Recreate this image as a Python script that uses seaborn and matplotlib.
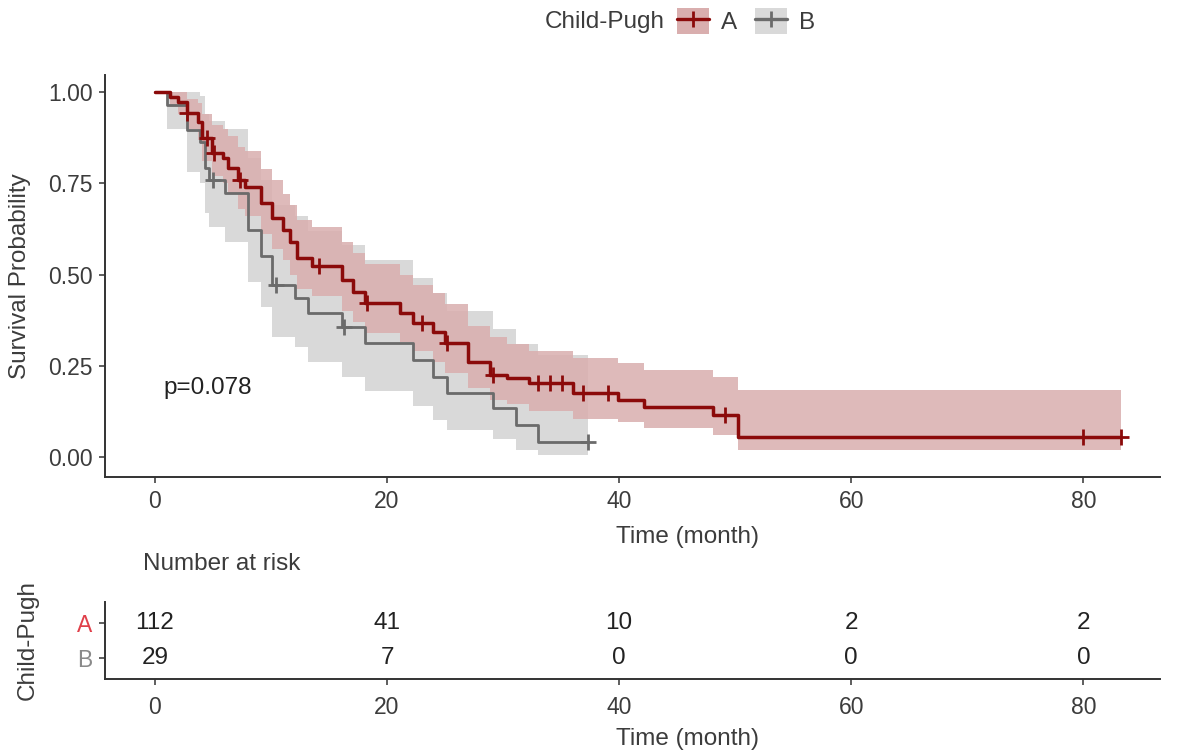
import numpy as np
import pandas as pd
import matplotlib
matplotlib.use("Agg")
import matplotlib.pyplot as plt
import seaborn as sns
from matplotlib.patches import Patch
from matplotlib.lines import Line2D
from matplotlib.legend_handler import HandlerTuple

# ---------------- data ----------------
groups = ["A", "B"]

time_A = [0, 1.3, 2.0, 2.8, 3.7, 4.1, 4.9, 5.9, 6.3, 7.2, 7.8, 9.1, 10.1, 11.0, 11.6,
          12.2, 13.5, 16.1, 17.1, 18.1, 21.1, 22.2, 24.0, 25.0, 27.0, 28.9, 30.3,
          32.2, 36.0, 39.9, 42.1, 48.1, 50.2]
surv_A = [1.0, 0.986, 0.973, 0.942, 0.918, 0.874, 0.833, 0.819, 0.792, 0.759, 0.740,
          0.696, 0.655, 0.622, 0.589, 0.545, 0.523, 0.485, 0.452, 0.422, 0.395, 0.367,
          0.342, 0.312, 0.260, 0.225, 0.216, 0.203, 0.175, 0.156, 0.137, 0.115, 0.055]
upper_A = [1.0, 1.0, 1.0, 0.98, 0.97, 0.94, 0.91, 0.90, 0.88, 0.85, 0.84, 0.79, 0.76,
           0.72, 0.69, 0.65, 0.63, 0.59, 0.56, 0.53, 0.50, 0.47, 0.45, 0.42, 0.36,
           0.33, 0.31, 0.29, 0.27, 0.257, 0.238, 0.22, 0.184]
lower_A = [1.0, 0.96, 0.94, 0.90, 0.87, 0.81, 0.77, 0.75, 0.72, 0.68, 0.66, 0.61, 0.57,
           0.54, 0.50, 0.46, 0.44, 0.40, 0.37, 0.34, 0.315, 0.29, 0.26, 0.23, 0.19,
           0.155, 0.145, 0.125, 0.105, 0.095, 0.08, 0.06, 0.02]
end_A = 83.2
cens_A = [2.8, 4.5, 5.1, 7.3, 14.1, 18.3, 23.0, 25.2, 29.1, 33.0, 34.0, 35.1, 36.9,
          39.0, 49.1, 80.0, 83.2]

time_B = [0, 1.0, 2.8, 3.9, 4.3, 4.7, 6.0, 8.0, 9.1, 10.1, 12.1, 13.2, 16.1, 18.1,
          22.2, 24.0, 25.2, 29.1, 31.1, 33.0]
surv_B = [1.0, 0.966, 0.897, 0.862, 0.793, 0.759, 0.724, 0.621, 0.552, 0.471, 0.435,
          0.394, 0.356, 0.312, 0.266, 0.219, 0.175, 0.134, 0.088, 0.041]
upper_B = [1.0, 1.0, 1.0, 0.99, 0.94, 0.92, 0.90, 0.82, 0.76, 0.69, 0.66, 0.62, 0.58,
           0.54, 0.49, 0.45, 0.40, 0.35, 0.31, 0.28]
lower_B = [1.0, 0.90, 0.78, 0.75, 0.67, 0.63, 0.59, 0.48, 0.41, 0.33, 0.30, 0.26, 0.22,
           0.18, 0.14, 0.10, 0.075, 0.05, 0.02, 0.005]
end_B = 37.3
cens_B = [5.0, 10.4, 16.3, 37.3]

risk_times = [0, 20, 40, 60, 80]
risk_A = [112, 41, 10, 2, 2]
risk_B = [29, 7, 0, 0, 0]
p_text = "p=0.078"

# ---------------- styling ----------------
col_line = {"A": "#8B0A0A", "B": "#6B6B6B"}
col_band = {"A": "#D9AEAE", "B": "#D9D9D9"}
col_tick = {"A": "#E0404A", "B": "#8A8A8A"}
txt = "#3C3C3C"
axc = "#333333"
FS = 17.5
TFS = 16.5
XLAB_X = 0.552  # x-label centre (axes fraction) as placed in the reference

sns.set_theme(style="white")
plt.rcParams["font.family"] = ["Liberation Sans", "DejaVu Sans"]
plt.rcParams["font.size"] = FS

W, H = 1189, 753
fig = plt.figure(figsize=(W / 100, H / 100), dpi=100)
ax = fig.add_axes([105 / W, 1 - 477 / H, (1160 - 105) / W, (477 - 75) / H])
axt = fig.add_axes([105 / W, 1 - 679 / H, (1160 - 105) / W, (679 - 602) / H])

series = {
    "A": (time_A, surv_A, upper_A, lower_A, end_A, cens_A),
    "B": (time_B, surv_B, upper_B, lower_B, end_B, cens_B),
}

rows = []
cens_rows = []
for g in groups:
    t, s, up, lo, end, cens = series[g]
    tt = list(t) + [end]
    ax.fill_between(tt, list(up) + [up[-1]], list(lo) + [lo[-1]], step="post",
                    color=col_band[g], alpha=1.0 if g == "B" else 0.85,
                    linewidth=0, zorder=1 if g == "B" else 2)
    for ti, si in zip(tt, list(s) + [s[-1]]):
        rows.append({"time": ti, "surv": si, "group": g})
    tarr = np.array(t)
    for c in cens:
        idx = np.searchsorted(tarr, c, side="right") - 1
        cens_rows.append({"time": c, "surv": s[idx], "group": g})

df = pd.DataFrame(rows)
dfc = pd.DataFrame(cens_rows)

for g, lw in zip(["B", "A"], [2.0, 2.5]):
    sub = df[df.group == g]
    sns.lineplot(data=sub, x="time", y="surv", ax=ax, color=col_line[g],
                 drawstyle="steps-post", estimator=None, sort=False,
                 linewidth=lw, legend=False, zorder=4)
    subc = dfc[dfc.group == g]
    sns.scatterplot(data=subc, x="time", y="surv", ax=ax, color=col_line[g],
                    marker="+", s=120, linewidth=2.0, legend=False, zorder=5)

ax.text(0.7, 0.19, p_text, fontsize=FS, color="#222222", va="center", ha="left")

ax.set_xlim(-4.3, 86.6)
ax.set_ylim(-0.055, 1.047)
ax.set_xticks(risk_times)
ax.set_yticks([0, 0.25, 0.5, 0.75, 1.0])
ax.set_yticklabels(["0.00", "0.25", "0.50", "0.75", "1.00"])
ax.set_xlabel("Time (month)", fontsize=FS, color=txt, labelpad=10, x=XLAB_X)
ax.set_ylabel("Survival Probability", fontsize=FS, color=txt, labelpad=12)

for a in (ax, axt):
    for sp in ["top", "right"]:
        a.spines[sp].set_visible(False)
    for sp in ["left", "bottom"]:
        a.spines[sp].set_color(axc)
        a.spines[sp].set_linewidth(1.4)
    a.tick_params(axis="both", which="both", length=4, width=1.1, color=axc,
                  labelcolor=txt, labelsize=TFS, direction="out", left=True, bottom=True,
                  pad=5)
    a.grid(False)
    a.set_facecolor("white")

# ---------------- risk table ----------------
axt.set_xlim(-4.3, 86.6)
axt.set_ylim(-0.6, 1.6)
ypos = {"A": 1, "B": 0}
for g, vals in zip(groups, [risk_A, risk_B]):
    for t, v in zip(risk_times, vals):
        axt.text(t, ypos[g], str(v), ha="center", va="center", fontsize=FS, color="#222222")
axt.set_yticks([ypos[g] for g in groups])
axt.set_yticklabels(groups)
for lbl, g in zip(axt.get_yticklabels(), groups):
    lbl.set_color(col_tick[g])
axt.tick_params(axis="x", pad=8)
axt.set_xticks(risk_times)
axt.set_xlabel("Time (month)", fontsize=FS, color=txt, labelpad=7, x=XLAB_X)
axt.set_ylabel("Child-Pugh", fontsize=FS, color=txt, labelpad=28)
axt.set_title("Number at risk", fontsize=FS, color=txt, loc="left", x=0.036, pad=23)

# ---------------- legend ----------------
fig.text(545 / W, 1 - 22 / H, "Child-Pugh", fontsize=FS, color=txt, va="center", ha="left")
handles = []
for g in groups:
    handles.append((Patch(facecolor=col_band[g], edgecolor="none"),
                    Line2D([0], [0], color=col_line[g], lw=2.4, marker="+",
                           markersize=11, markeredgewidth=2)))
fig.legend(handles, groups, loc="center left", bbox_to_anchor=(677 / W, 1 - 21 / H),
           ncol=2, frameon=False, fontsize=FS, handlelength=1.3, handleheight=1.25,
           handletextpad=0.5, columnspacing=0.75, borderaxespad=0, borderpad=0,
           handler_map={tuple: HandlerTuple(ndivide=1, pad=0)}, labelcolor=txt)

fig.savefig("out.png", dpi=100, facecolor="white")
